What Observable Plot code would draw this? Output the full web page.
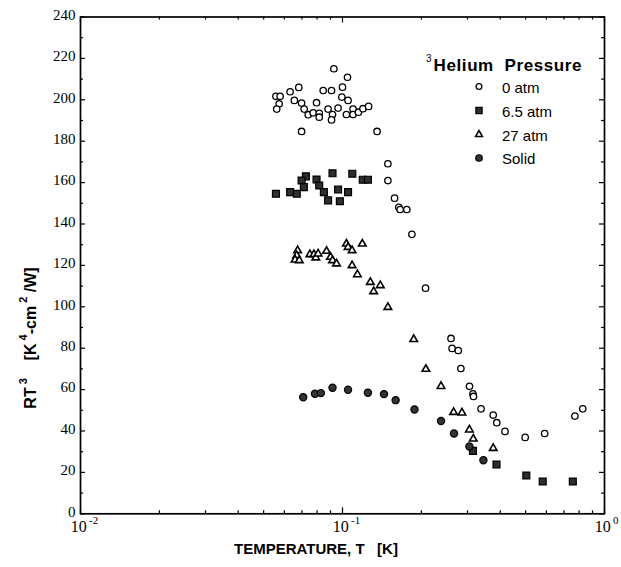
<!DOCTYPE html>
<html>
<head>
<meta charset="utf-8">
<script src="https://cdn.jsdelivr.net/npm/d3@7"></script>
<script src="https://cdn.jsdelivr.net/npm/@observablehq/plot@0.6"></script>
<style>
  body { margin: 0; background: #fff; }
  #chart { width: 621px; height: 567px; }
</style>
</head>
<body>
<div id="chart"></div>
<script>
// Thermal boundary resistance RT^3 versus temperature, liquid and solid 3He.
// 0 atm (open circles)
const tZero = [0.0557, 0.0578, 0.0573, 0.0561, 0.0631, 0.0681, 0.0655, 0.0698, 0.0714, 0.0740,
  0.0773, 0.0796, 0.0815, 0.0815, 0.0844, 0.0908, 0.0881, 0.0916, 0.0908, 0.0962,
  0.1000, 0.0994, 0.1050, 0.1035, 0.1097, 0.1097, 0.1150, 0.1197, 0.1258, 0.0927,
  0.1045, 0.0698, 0.1355, 0.149, 0.149, 0.158, 0.164, 0.166, 0.176, 0.184,
  0.2075, 0.2595, 0.262, 0.2766, 0.283, 0.3053, 0.3147, 0.3162, 0.338, 0.376,
  0.388, 0.417, 0.498, 0.591, 0.771, 0.826];
const rZero = [201.7, 201.7, 198.1, 195.5, 203.9, 206.0, 199.7, 198.4, 195.5, 192.8,
  193.7, 198.6, 193.5, 191.6, 204.5, 204.5, 195.5, 192.9, 190.3, 196.0,
  206.1, 201.3, 199.7, 192.9, 195.5, 192.9, 194.0, 195.7, 196.8, 215.0,
  210.9, 184.7, 184.7, 169.1, 161.0, 152.5, 148.1, 147.0, 147.0, 135.0,
  109.0, 84.7, 79.9, 78.9, 70.2, 61.6, 58.0, 56.7, 50.7, 47.7,
  44.0, 39.8, 36.9, 38.8, 47.2, 50.7];

// 6.5 atm (filled squares)
const tMid = [0.0557, 0.0631, 0.0669, 0.0725, 0.0698, 0.0712, 0.0796, 0.0815, 0.0849, 0.0881,
  0.0916, 0.0962, 0.0977, 0.105, 0.109, 0.1195, 0.125, 0.3147, 0.387, 0.503, 0.581, 0.757];
const rMid = [154.6, 155.4, 154.6, 163.0, 161.0, 157.8, 161.5, 158.6, 155.4, 151.4,
  164.5, 156.7, 151.0, 155.4, 164.3, 161.4, 161.4, 30.4, 23.8, 18.5, 15.6, 15.6];

// 27 atm (open triangles)
const tHigh = [0.0674, 0.0669, 0.0659, 0.0684, 0.0751, 0.0778, 0.0791, 0.0807, 0.0869, 0.0900,
  0.0916, 0.0949, 0.1035, 0.105, 0.1088, 0.119, 0.1088, 0.114, 0.1277, 0.1315,
  0.1394, 0.149, 0.187, 0.208, 0.2377, 0.2655, 0.2857, 0.305, 0.3156, 0.376];
const rHigh = [127.2, 124.8, 122.7, 122.4, 125.3, 125.3, 123.7, 125.6, 126.9, 124.0,
  122.4, 120.8, 130.4, 128.8, 127.2, 130.4, 120.0, 115.6, 111.9, 107.4,
  110.3, 99.8, 84.3, 69.9, 61.6, 49.1, 48.8, 40.6, 36.2, 31.7];

// Solid (filled circles)
const tSolid = [0.0708, 0.0785, 0.0827, 0.0916, 0.105, 0.125, 0.144, 0.1595, 0.1883, 0.2377,
  0.2665, 0.305, 0.345];
const rSolid = [56.3, 58.0, 58.3, 60.9, 59.9, 58.5, 57.8, 54.9, 50.4, 44.8, 38.8, 32.5, 25.9];

// Axis ticks
const yMajor = [0, 20, 40, 60, 80, 100, 120, 140, 160, 180, 200, 220, 240];
const yMinor = [10, 30, 50, 70, 90, 110, 130, 150, 170, 190, 210, 230];
const xMajor = [0.01, 0.1, 1];
const xMinor = [0.02, 0.03, 0.04, 0.05, 0.06, 0.07, 0.08, 0.09, 0.2, 0.3, 0.4, 0.5, 0.6, 0.7, 0.8, 0.9];

const legendTitle = "Helium  Pressure";
const series = [
  {name: "0 atm", t: tZero, r: rZero, symbol: "circle", fill: "white", size: 3.2, sw: 1.3},
  {name: "6.5 atm", t: tMid, r: rMid, symbol: "square", fill: "#2e2e2e", size: 3.9, sw: 1.2},
  {name: "27 atm", t: tHigh, r: rHigh, symbol: "triangle", fill: "white", size: 2.8, sw: 1.6},
  {name: "Solid", t: tSolid, r: rSolid, symbol: "circle", fill: "#333", size: 3.6, sw: 1.2}
];

const W = 621, H = 567;
const mL = 80, mR = 17, mT = 16.5, mB = 53.7;
const fw = W - mL - mR, fh = H - mT - mB;

const serif = "'Liberation Serif', 'Times New Roman', serif";
const sans = "'Liberation Sans', Arial, Helvetica, sans-serif";

const dotMarks = series.map(s => Plot.dot(s.t.map((t, i) => ({t, r: s.r[i]})), {
  x: "t", y: "r", symbol: () => s.symbol, r: s.size,
  fill: s.fill, stroke: "black", strokeWidth: s.sw
}));

const chart = Plot.plot({
  width: W, height: H,
  marginLeft: mL, marginRight: mR, marginTop: mT, marginBottom: mB,
  style: {fontFamily: serif, fontSize: "15px", background: "white", color: "black"},
  x: {type: "log", domain: [0.01, 1], axis: null},
  y: {domain: [0, 240], axis: null},
  symbol: {type: "identity"},
  marks: [
    // inward ticks on all four sides
    Plot.tickY(yMajor, {y: d => d, insetRight: fw - 5, strokeWidth: 1.2}),
    Plot.tickY(yMinor, {y: d => d, insetRight: fw - 3, strokeWidth: 1.2}),
    Plot.tickY(yMajor, {y: d => d, insetLeft: fw - 5, strokeWidth: 1.2}),
    Plot.tickY(yMinor, {y: d => d, insetLeft: fw - 3, strokeWidth: 1.2}),
    Plot.tickX(xMajor, {x: d => d, insetTop: fh - 6, strokeWidth: 1.2}),
    Plot.tickX(xMinor, {x: d => d, insetTop: fh - 3, strokeWidth: 1.2}),
    Plot.tickX(xMajor, {x: d => d, insetBottom: fh - 6, strokeWidth: 1.2}),
    Plot.tickX(xMinor, {x: d => d, insetBottom: fh - 3, strokeWidth: 1.2}),
    Plot.frame({stroke: "black", strokeWidth: 1.7}),
    // tick labels
    Plot.axisY(yMajor, {tickSize: 0, tickPadding: 5, fontSize: 15, fontFamily: serif, label: null, dy: -2}),
    Plot.text(xMajor, {x: d => d, frameAnchor: "bottom", text: () => "10", textAnchor: "end",
      dx: 6.3, dy: 18, fontSize: 16, fontFamily: serif}),
    Plot.text(xMajor, {x: d => d, frameAnchor: "bottom", text: d => String(Math.round(Math.log10(d))),
      textAnchor: "start", dx: 8.5, dy: 10, fontSize: 11, fontFamily: serif}),
    ...dotMarks
  ]
});

document.getElementById("chart").appendChild(chart);

// axis titles and legend, drawn into the same SVG
const svg = d3.select(chart);
svg.append("text")
  .attr("x", 316).attr("y", 554)
  .attr("text-anchor", "middle")
  .attr("font-family", sans).attr("font-weight", "bold").attr("font-size", 15)
  .style("white-space", "pre")
  .text("TEMPERATURE, T   [K]");

const yt = svg.append("text")
  .attr("transform", "translate(36,338) rotate(-90)")
  .attr("text-anchor", "middle")
  .attr("font-family", sans).attr("font-weight", "bold").attr("font-size", 16)
  .style("white-space", "pre");
yt.append("tspan").text("RT");
yt.append("tspan").attr("dy", -9).attr("font-size", 11).text(" 3");
yt.append("tspan").attr("dy", 9).text("    [K");
yt.append("tspan").attr("dy", -9).attr("font-size", 11).text(" 4");
yt.append("tspan").attr("dy", 9).text("-cm");
yt.append("tspan").attr("dy", -9).attr("font-size", 11).text(" 2");
yt.append("tspan").attr("dy", 9).text(" /W]");

const lg = svg.append("g").attr("text-anchor", "start");
const title = lg.append("text")
  .attr("x", 426).attr("y", 70.5)
  .attr("text-anchor", "start")
  .attr("font-family", sans).attr("font-weight", "bold").attr("font-size", 17)
  .style("white-space", "pre");
title.append("tspan").attr("font-size", 10).attr("font-weight", "normal").attr("dy", -9).text("3");
title.append("tspan").attr("dy", 9).attr("dx", 2).attr("letter-spacing", 0.6).text(legendTitle);

const shapes = {circle: d3.symbolCircle, square: d3.symbolSquare, triangle: d3.symbolTriangle};
const rowY = [92.5, 116.5, 140.5, 164];
series.forEach((s, i) => {
  lg.append("path")
    .attr("transform", `translate(479,${rowY[i] - 6})`)
    .attr("d", d3.symbol(shapes[s.symbol], Math.PI * (s.size * 0.9) ** 2)())
    .attr("fill", s.fill).attr("stroke", "black").attr("stroke-width", s.sw);
  lg.append("text")
    .attr("x", 502).attr("y", rowY[i])
    .attr("text-anchor", "start")
    .attr("font-family", sans).attr("font-size", 15)
    .text(s.name);
});
</script>
</body>
</html>
